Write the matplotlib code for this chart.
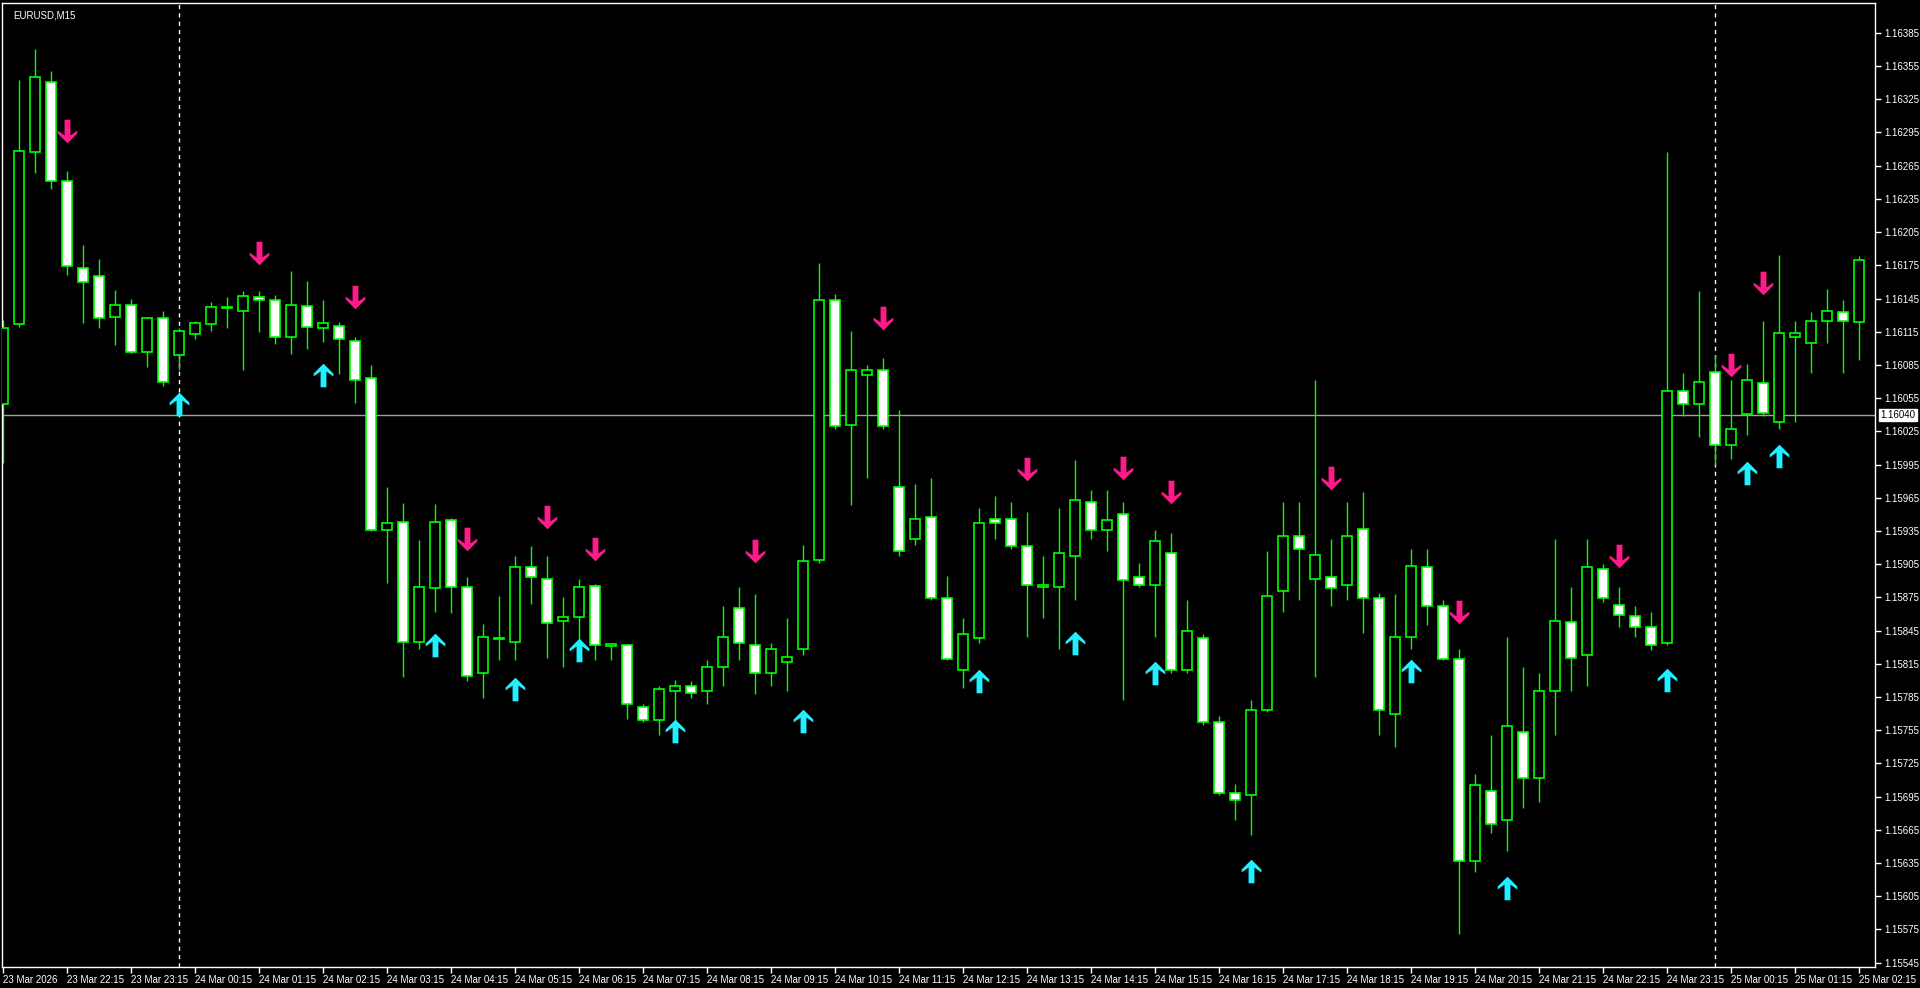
import matplotlib
matplotlib.use("Agg")
import matplotlib.pyplot as plt
import numpy as np
from matplotlib.path import Path

opens = [1.16050,1.16122,1.16277,1.16341,1.16251,1.16173,1.16165,1.16128,1.16139,1.16097,
         1.16127,1.16094,1.16113,1.16122,1.16136,1.16134,1.16146,1.16144,1.16110,1.16138,
         1.16118,1.16120,1.16107,1.16073,1.15936,1.15943,1.15835,1.15883,1.15945,1.15884,
         1.15807,1.15837,1.15835,1.15902,1.15892,1.15854,1.15857,1.15885,1.15831,1.15832,
         1.15776,1.15764,1.15790,1.15795,1.15790,1.15812,1.15865,1.15832,1.15807,1.15817,
         1.15828,1.15909,1.16144,1.16031,1.16076,1.16080,1.15975,1.15928,1.15948,1.15874,
         1.15809,1.15838,1.15946,1.15946,1.15921,1.15884,1.15884,1.15912,1.15961,1.15936,
         1.15950,1.15893,1.15886,1.15915,1.15809,1.15838,1.15762,1.15698,1.15696,1.15773,
         1.15881,1.15930,1.15892,1.15893,1.15886,1.15937,1.15874,1.15770,1.15839,1.15902,
         1.15867,1.15819,1.15637,1.15700,1.15674,1.15753,1.15712,1.15790,1.15853,1.15823,
         1.15901,1.15868,1.15858,1.15848,1.15834,1.16061,1.16050,1.16079,1.16013,1.16041,
         1.16069,1.16033,1.16110,1.16105,1.16125,1.16133,1.16124]
highs = [1.16126,1.16342,1.16370,1.16351,1.16260,1.16193,1.16181,1.16153,1.16145,1.16128,
         1.16134,1.16118,1.16125,1.16142,1.16146,1.16152,1.16152,1.16148,1.16170,1.16161,
         1.16144,1.16124,1.16110,1.16085,1.15975,1.15960,1.15927,1.15959,1.15947,1.15893,
         1.15851,1.15876,1.15912,1.15921,1.15912,1.15875,1.15892,1.15887,1.15834,1.15833,
         1.15779,1.15795,1.15800,1.15799,1.15818,1.15867,1.15884,1.15878,1.15834,1.15856,
         1.15922,1.16177,1.16149,1.16116,1.16085,1.16091,1.16044,1.15977,1.15983,1.15894,
         1.15856,1.15956,1.15967,1.15961,1.15952,1.15912,1.15956,1.15999,1.15972,1.15972,
         1.15961,1.15906,1.15936,1.15933,1.15873,1.15842,1.15768,1.15706,1.15782,1.15917,
         1.15961,1.15961,1.16071,1.15928,1.15961,1.15970,1.15879,1.15878,1.15919,1.15919,
         1.15873,1.15828,1.15715,1.15751,1.15839,1.15812,1.15807,1.15928,1.15884,1.15928,
         1.15905,1.15884,1.15867,1.15862,1.16277,1.16078,1.16152,1.16094,1.16071,1.16086,
         1.16125,1.16184,1.16125,1.16133,1.16154,1.16144,1.16183]
lows = [1.15996,1.16119,1.16258,1.16244,1.16166,1.16123,1.16118,1.16103,1.16096,1.16083,
        1.16066,1.16080,1.16108,1.16116,1.16118,1.16080,1.16115,1.16104,1.16095,1.16099,
        1.16106,1.16077,1.16051,1.15935,1.15888,1.15803,1.15828,1.15862,1.15861,1.15799,
        1.15784,1.15818,1.15818,1.15869,1.15820,1.15812,1.15828,1.15818,1.15818,1.15765,
        1.15762,1.15751,1.15751,1.15784,1.15779,1.15795,1.15818,1.15788,1.15795,1.15790,
        1.15823,1.15906,1.16027,1.15958,1.15983,1.16027,1.15912,1.15922,1.15873,1.15818,
        1.15793,1.15834,1.15928,1.15919,1.15839,1.15856,1.15828,1.15873,1.15928,1.15917,
        1.15782,1.15884,1.15839,1.15807,1.15807,1.15760,1.15696,1.15674,1.15660,1.15771,
        1.15862,1.15873,1.15803,1.15867,1.15873,1.15843,1.15751,1.15740,1.15828,1.15850,
        1.15818,1.15571,1.15627,1.15662,1.15646,1.15685,1.15690,1.15751,1.15790,1.15795,
        1.15871,1.15848,1.15839,1.15827,1.15832,1.16039,1.16020,1.15995,1.16000,1.16022,
        1.16039,1.16027,1.16033,1.16078,1.16105,1.16078,1.16089]
closes = [1.16118,1.16278,1.16345,1.16251,1.16174,1.16160,1.16127,1.16139,1.16097,1.16127,
          1.16070,1.16116,1.16123,1.16137,1.16137,1.16147,1.16144,1.16110,1.16139,1.16119,
          1.16123,1.16108,1.16071,1.15936,1.15942,1.15835,1.15884,1.15943,1.15884,1.15804,
          1.15839,1.15838,1.15902,1.15893,1.15852,1.15857,1.15884,1.15832,1.15833,1.15779,
          1.15764,1.15792,1.15795,1.15789,1.15812,1.15839,1.15834,1.15807,1.15828,1.15821,
          1.15908,1.16144,1.16030,1.16080,1.16080,1.16030,1.15917,1.15946,1.15874,1.15819,
          1.15842,1.15942,1.15942,1.15921,1.15886,1.15886,1.15915,1.15963,1.15936,1.15945,
          1.15891,1.15886,1.15926,1.15809,1.15845,1.15762,1.15698,1.15692,1.15773,1.15876,
          1.15930,1.15919,1.15913,1.15883,1.15930,1.15874,1.15773,1.15839,1.15903,1.15867,
          1.15819,1.15637,1.15705,1.15670,1.15759,1.15712,1.15790,1.15854,1.15820,1.15902,
          1.15874,1.15859,1.15848,1.15832,1.16061,1.16050,1.16070,1.16013,1.16027,1.16071,
          1.16042,1.16114,1.16114,1.16125,1.16134,1.16125,1.16180]

down_idx = [4,16,22,29,34,37,47,55,64,70,73,83,91,101,108,110]
down_val = [1.16296,1.16186,1.16146,1.15928,1.15948,1.15919,1.15917,1.16127,1.15991,1.15992,
            1.15970,1.15983,1.15862,1.15912,1.16085,1.16159]
up_idx = [11,20,27,32,36,42,50,61,67,72,78,88,94,104,109,111]
up_val = [1.16050,1.16076,1.15832,1.15792,1.15827,1.15754,1.15763,1.15799,1.15834,1.15807,
          1.15628,1.15808,1.15612,1.15800,1.15987,1.16003]

current_price = 1.16040
yticks = [round(1.15545 + 0.0003 * k, 5) for k in range(29)]
time_labels = ["23 Mar 2026"] + [
    "23 Mar 22:15", "23 Mar 23:15", "24 Mar 00:15", "24 Mar 01:15", "24 Mar 02:15",
    "24 Mar 03:15", "24 Mar 04:15", "24 Mar 05:15", "24 Mar 06:15", "24 Mar 07:15",
    "24 Mar 08:15", "24 Mar 09:15", "24 Mar 10:15", "24 Mar 11:15", "24 Mar 12:15",
    "24 Mar 13:15", "24 Mar 14:15", "24 Mar 15:15", "24 Mar 16:15", "24 Mar 17:15",
    "24 Mar 18:15", "24 Mar 19:15", "24 Mar 20:15", "24 Mar 21:15", "24 Mar 22:15",
    "24 Mar 23:15", "25 Mar 00:15", "25 Mar 01:15", "25 Mar 02:15"]
day_sep = [11, 107]

plt.rcParams['font.family'] = ['Liberation Sans', 'DejaVu Sans']
FS = 7
GREEN = "#00FF00"
fig = plt.figure(figsize=(19.2, 9.88), dpi=100, facecolor="black")
ax = fig.add_axes([2/1920, 21/988, 1873/1920, 964/988], facecolor="black")
n = len(opens)
x = np.arange(n)
o = np.array(opens); c = np.array(closes); h = np.array(highs); l = np.array(lows)
ax.vlines(x, l, h, color=GREEN, lw=1.0, zorder=2)
bot = np.minimum(o, c)
ht = np.maximum(np.abs(c - o), 0.000004)
fc = ["white" if cc < oo else "black" for oo, cc in zip(o, c)]
ax.bar(x, ht, bottom=bot, width=0.62, color=fc, edgecolor=GREEN, linewidth=1.2, zorder=3)

ax.axhline(current_price, color="#A0A0A0", lw=1.0, zorder=1)
for d in day_sep:
    ax.axvline(d, color="white", lw=1.0, ls=(0, (3, 3)), zorder=1)

uv = [(0, 12), (10, 2), (10, -1), (3, 4), (3, -12), (-3, -12), (-3, 4), (-10, -1), (-10, 2), (0, 12)]
up_path = Path(uv, [Path.MOVETO] + [Path.LINETO] * (len(uv) - 2) + [Path.CLOSEPOLY])
dv = [(a, -b) for a, b in uv]
down_path = Path(dv, [Path.MOVETO] + [Path.LINETO] * (len(dv) - 2) + [Path.CLOSEPOLY])
ax.plot(down_idx, down_val, marker=down_path, ms=17, ls="none", color="#FF1A8C", mec="none", zorder=4)
ax.plot(up_idx, up_val, marker=up_path, ms=17, ls="none", color="#1EF0FF", mec="none", zorder=4)

ax.set_xlim(-0.0625, 117.0)
ax.set_ylim(1.15541, 1.16412)
for s in ax.spines.values():
    s.set_color("white"); s.set_linewidth(1)

ax.yaxis.tick_right()
ax.set_yticks(yticks)
ax.set_yticklabels([f"{v:.5f}" for v in yticks], color="white", fontsize=FS)
ax.tick_params(axis="y", colors="white", length=4, width=1, pad=3, labelsize=FS)
xt = [0] + [4 + 4 * k for k in range(len(time_labels) - 1)]
ax.set_xticks(xt)
ax.set_xticklabels(time_labels, color="white", fontsize=FS, ha="left")
ax.tick_params(axis="x", colors="white", length=4, width=1, pad=2, labelsize=FS)

ax.annotate(f"{current_price:.5f}", xy=(1.0, current_price), xycoords=("axes fraction", "data"),
            xytext=(4, 0), textcoords="offset points", color="black", fontsize=FS,
            va="center", ha="left", annotation_clip=False,
            bbox=dict(boxstyle="square,pad=0.12", fc="white", ec="white"), zorder=6)
ax.text(0.006, 0.992, "EURUSD,M15", transform=ax.transAxes, color="white", fontsize=FS,
        va="top", ha="left")
fig.savefig("out.png", dpi=100, facecolor="black")
